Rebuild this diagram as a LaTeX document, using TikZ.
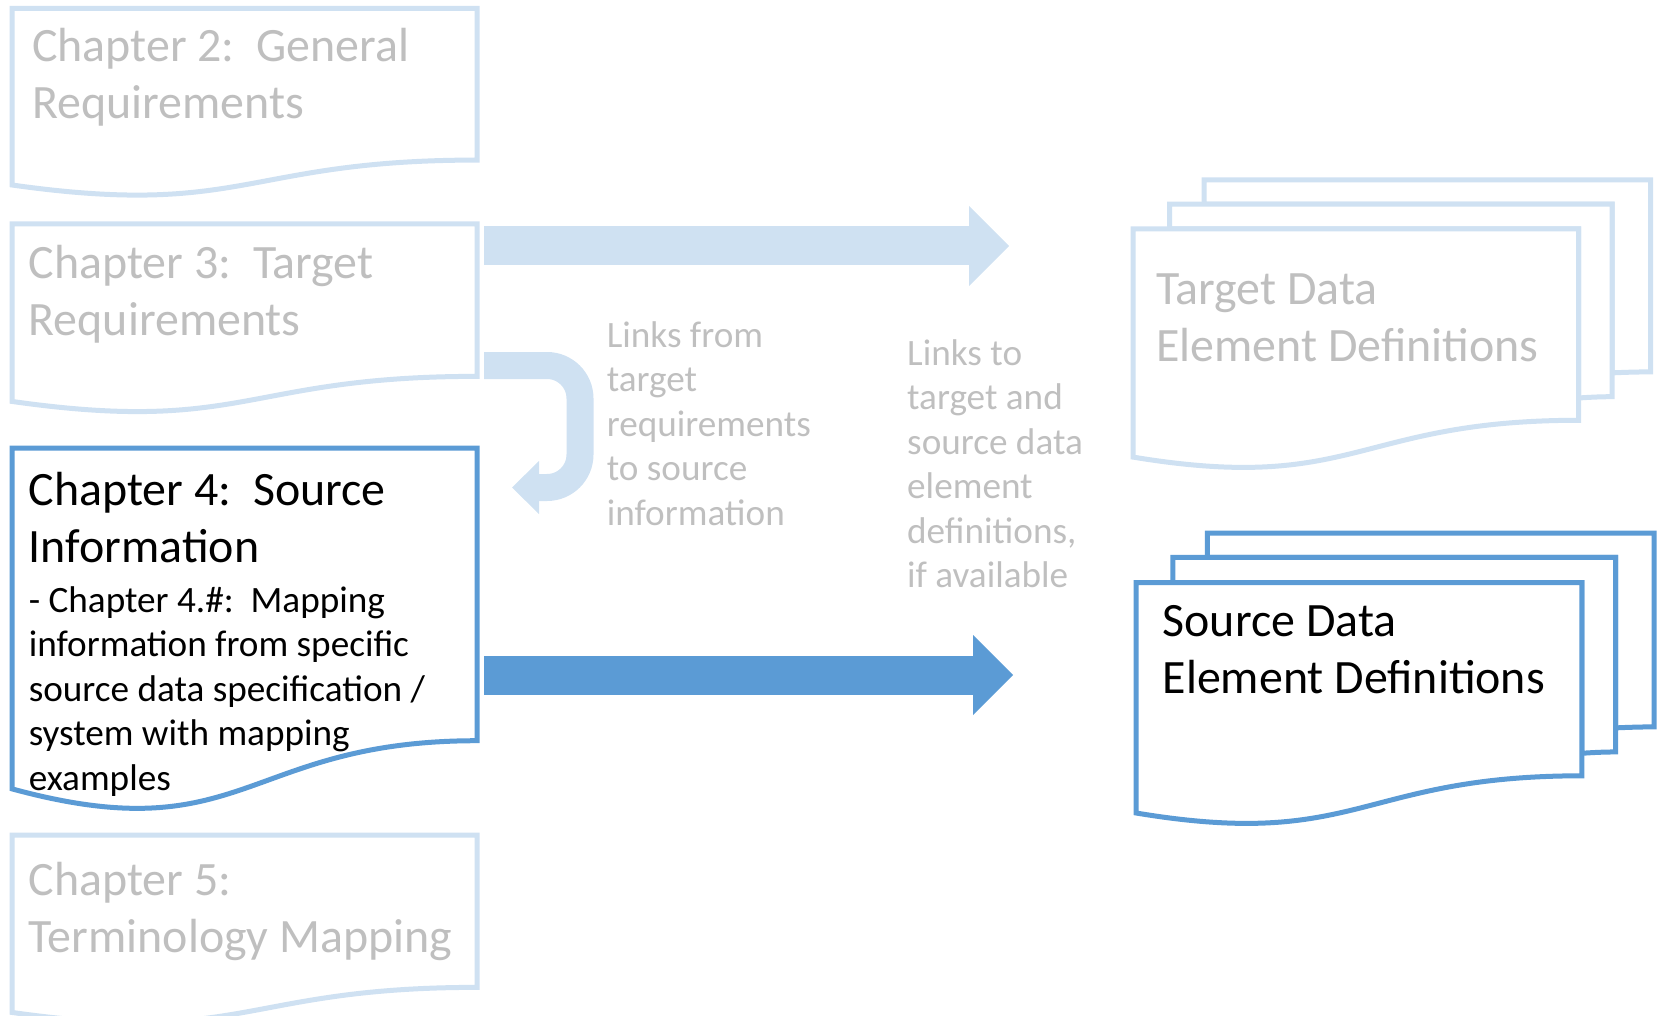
\documentclass[tikz,border=0pt]{standalone}
\usepackage{fontspec}
\setmainfont{Carlito}
\usetikzlibrary{arrows.meta}

\definecolor{paleblue}{HTML}{CFE1F2}
\definecolor{midblue}{HTML}{5B9BD5}
\definecolor{fadedtext}{HTML}{BFBFBF}

% one document page with a wavy bottom: style, left, top, width, height
\newcommand{\chapdoc}[5]{%
  \begin{scope}[shift={(#2,#3)}, x={#4pt/216}, y={-#5pt/216}]
    \draw[#1] (0,0) -- (216,0) -- (216,173.22)
      .. controls (108,173.22) and (108,239.22) .. (0,201.72) -- cycle;
  \end{scope}}

% a stack of three pages: style, left, top, width, height
\newcommand{\pagestack}[5]{%
  \begin{scope}[shift={(#2,#3)}, x={#4pt/216}, y={-#5pt/216}]
    \draw[#1] (29.72,18.15) -- (29.72,0) -- (216,0) -- (216,143.92)
      .. controls (208,143.92) and (200,144.67) .. (200,144.67) -- (200,18.15) -- cycle;
    \draw[#1] (15.32,36.75) -- (15.32,18.15) -- (200,18.15) -- (200,162.52)
      .. controls (192.98,162.52) and (185.95,163.52) .. (185.95,163.52) -- (185.95,36.75) -- cycle;
    \draw[#1] (0,36.75) -- (185.95,36.75) -- (185.95,180.22)
      .. controls (92.98,180.22) and (92.98,235.42) .. (0,207.82) -- cycle;
  \end{scope}}

\tikzset{
  palepage/.style={draw=paleblue, line width=5pt, fill=white},
  boldpage/.style={draw=midblue, line width=5pt, fill=white},
  % nodes sit on the baseline of their last line
  bigtxt/.style={anchor=base west, inner sep=0pt, align=left,
    font=\fontsize{47.9}{57}\selectfont},
  smalltxt/.style={anchor=base west, inner sep=0pt, align=left,
    font=\fontsize{37.2}{44.5}\selectfont},
  fatarrow/.style={line width=39pt, -{Triangle[length=40pt,width=80pt,line width=0pt]}},
}

\begin{document}
\begin{tikzpicture}[x=1pt,y=-1pt]
\useasboundingbox (0,0) rectangle (1660,1016);

% chapter pages
\chapdoc{palepage}{12}{8.5}{465}{189}
\chapdoc{palepage}{12}{224}{465}{190}
\chapdoc{boldpage}{12}{448}{465}{365}
\chapdoc{palepage}{12}{835}{465}{190}

% definition stacks
\pagestack{palepage}{1133}{180}{517.5}{288}
\pagestack{boldpage}{1136}{533}{518}{291}

% texts
\node[bigtxt, fadedtext] (ch2) at (32,118.5) {Chapter 2:\ \ General\\Requirements};
\node[bigtxt, fadedtext] (ch3) at (28.6,335.5) {Chapter 3:\ \ Target\\Requirements};
\node[bigtxt] (ch4) at (28.6,562) {Chapter 4:\ \ Source\\Information};
\node[smalltxt] (ch4sub) at (28.6,790) {- Chapter 4.\#:\ \ Mapping\\information from specific\\source data specification /\\system with mapping\\examples};
\node[bigtxt, fadedtext] (ch5) at (28.6,952.8) {Chapter 5:\\Terminology Mapping};
\node[smalltxt, fadedtext] (linksfrom) at (606.6,525) {Links from\\target\\requirements\\to source\\information};
\node[smalltxt, fadedtext] (linksto) at (907,587.6) {Links to\\target and\\source data\\element\\definitions,\\if available};
\node[bigtxt, fadedtext] (tgtdefs) at (1156,361) {Target Data\\Element Definitions};
\node[bigtxt] (srcdefs) at (1162.5,693) {Source Data\\Element Definitions};

% arrows
\coordinate (tgtfrom) at (484,246);
\coordinate (tgtto) at (1009,246);
\coordinate (srcfrom) at (484,675);
\coordinate (srcto) at (1013,675);
\coordinate (backfrom) at (484,365.5);
\coordinate (backto) at (512,487.5);
\draw[fatarrow, paleblue] (tgtfrom) -- (tgtto);
\draw[fatarrow, midblue] (srcfrom) -- (srcto);
\draw[paleblue, line width=27pt, rounded corners=33pt,
  -{Triangle[length=27pt,width=53pt,line width=0pt]}]
  (backfrom) -- (580,365.5) -- (580,487.5) -- (backto);
\end{tikzpicture}
\end{document}
